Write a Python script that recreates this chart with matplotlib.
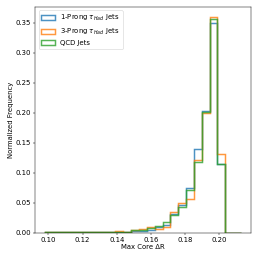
import numpy as np
import matplotlib
matplotlib.use('Agg')
import matplotlib.pyplot as plt

# shared bin edges over Max Core dR
bin_lo = 0.098
bin_hi = 0.2127
n_bins = 25

labels = [r'1-Prong $\tau_{Had}$ Jets', r'3-Prong $\tau_{Had}$ Jets', 'QCD Jets']
colors = ['C0', 'C1', 'C2']

# normalized frequency per bin
one_prong = [0.001, 0.001, 0.0005, 0.0005, 0.0005, 0.001, 0.002, 0.002, 0.001, 0.002,
             0.001, 0.003, 0.003, 0.005, 0.009, 0.013, 0.031, 0.046, 0.074, 0.139,
             0.203, 0.349, 0.115, 0.0, 0.0]
three_prong = [0.0005, 0.0005, 0.0005, 0.0005, 0.0005, 0.0005, 0.001, 0.001, 0.001, 0.003,
               0.002, 0.005, 0.006, 0.010, 0.007, 0.010, 0.034, 0.049, 0.057, 0.121,
               0.199, 0.359, 0.132, 0.0, 0.0]
qcd = [0.0005, 0.0005, 0.0005, 0.001, 0.001, 0.001, 0.001, 0.001, 0.001, 0.001,
       0.001, 0.004, 0.005, 0.008, 0.012, 0.018, 0.029, 0.043, 0.072, 0.118,
       0.202, 0.357, 0.115, 0.0, 0.0]


def main():
    edges = np.linspace(bin_lo, bin_hi, n_bins + 1)
    centers = 0.5 * (edges[:-1] + edges[1:])

    plt.rcParams['font.size'] = 11.5
    fig = plt.figure(figsize=(6, 6), dpi=43)
    ax = fig.add_axes([0.136, 0.098, 0.836, 0.876])

    for vals, lab, c in zip([one_prong, three_prong, qcd], labels, colors):
        ax.hist(centers, bins=edges, weights=vals, histtype='step',
                linewidth=2.5, alpha=0.8, color=c, label=lab)

    ax.set_xlabel('Max Core ΔR', labelpad=2)
    ax.set_ylabel('Normalized Frequency', labelpad=2)
    ax.set_xticks([0.10, 0.12, 0.14, 0.16, 0.18, 0.20])
    ax.legend(loc='upper left')

    fig.savefig('out.png', dpi=43)


if __name__ == '__main__':
    main()
